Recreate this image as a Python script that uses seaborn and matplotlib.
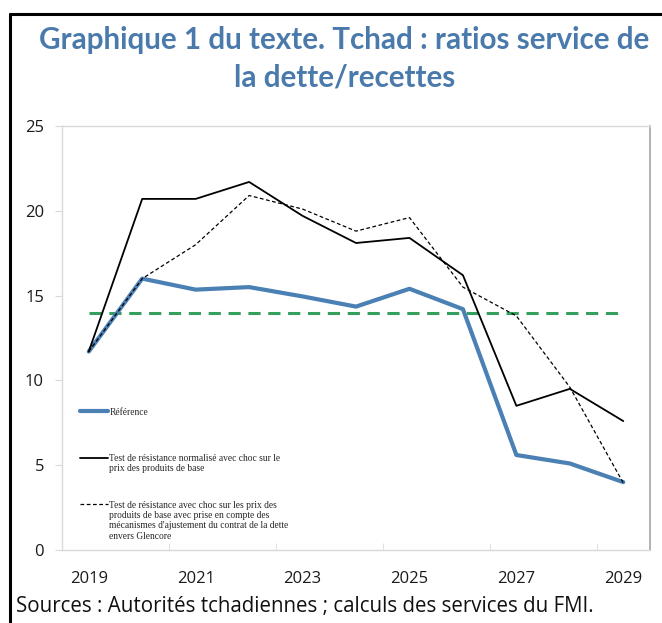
import matplotlib
matplotlib.use('Agg')
import matplotlib.pyplot as plt
import seaborn as sns
from matplotlib.lines import Line2D

# Data
years = [2019, 2020, 2021, 2022, 2023, 2024, 2025, 2026, 2027, 2028, 2029]
reference = [11.7, 16.0, 15.35, 15.5, 14.95, 14.35, 15.4, 14.2, 5.6, 5.1, 4.0]
stress_std = [11.7, 20.7, 20.7, 21.7, 19.7, 18.1, 18.4, 16.2, 8.5, 9.5, 7.6]
stress_glencore = [11.7, 16.0, 18.0, 20.9, 20.1, 18.8, 19.6, 15.5, 13.8, 9.6, 3.95]
threshold = [14.0] * len(years)

labels = [
    'Référence\n',
    'Test de résistance normalisé avec choc sur le\nprix des produits de base',
    'Test de résistance avec choc sur les prix des\nproduits de base avec prise en compte des\n'
    'mécanismes d\'ajustement du contrat de la dette\nenvers Glencore',
]
title = 'Graphique 1 du texte. Tchad : ratios service de\nla dette/recettes'
source = 'Sources : Autorités tchadiennes ; calculs des services du FMI.'

sns.set_style('white')
plt.rcParams['font.family'] = ['Open Sans', 'DejaVu Sans']

fig = plt.figure(figsize=(6.62, 6.23), dpi=100)
ax = fig.add_axes([0.0937, 0.1172, 0.8882, 0.6806])

blue = '#4a80b4'
green = '#35a05e'

sns.lineplot(x=years, y=threshold, ax=ax, color=green, linewidth=2.2,
             linestyle=(0, (4, 2.5)), label='_nolegend_')
sns.lineplot(x=years, y=reference, ax=ax, color=blue, linewidth=3.0, label=labels[0])
sns.lineplot(x=years, y=stress_std, ax=ax, color='black', linewidth=1.3, label=labels[1])
sns.lineplot(x=years, y=stress_glencore, ax=ax, color='black', linewidth=0.9,
             linestyle=(0, (3, 2)), label=labels[2])

ax.set_xlim(2018.5, 2029.5)
ax.set_ylim(0, 25)
ax.set_xticks(years[::2])
ax.set_xticklabels([str(y) for y in years[::2]])
ax.set_xticks([2020.5, 2022.5, 2024.5, 2026.5, 2028.5], minor=True)
ax.set_yticks(range(0, 26, 5))
ax.tick_params(axis='x', which='major', length=0, pad=15, labelsize=12, colors='#1a1a1a')
ax.tick_params(axis='x', which='minor', direction='in', length=5, color='#d9d9d9', bottom=True)
ax.tick_params(axis='y', length=5, color='#d9d9d9', left=True, pad=8,
               labelsize=12, colors='#1a1a1a')
ax.set_xlabel('')
ax.set_ylabel('')

for side in ['left', 'top', 'bottom']:
    ax.spines[side].set_color('#d9d9d9')
    ax.spines[side].set_linewidth(1.0)
ax.spines['right'].set_color('#a6a6a6')
ax.spines['right'].set_linewidth(1.2)

leg = ax.legend(loc='upper left', bbox_to_anchor=(0.031, 0.336), frameon=False,
                prop={'family': 'Liberation Serif', 'size': 6.85},
                handlelength=2.9, handletextpad=0.15, labelspacing=2.9,
                borderpad=0, borderaxespad=0)
# put each handle next to the first line of its label
for col in leg._legend_handle_box.get_children():
    for row in col.get_children():
        row.align = 'top'
for t in leg.get_texts():
    t.set_linespacing(1.17)

fig.text(0.52, 0.906, title, ha='center', va='center', fontsize=21.3,
         fontweight='bold', color='#4a7aab', family='Lato', linespacing=1.4)
fig.text(0.024, 0.026, source, ha='left', va='center', fontsize=14.8, color='#111111')

# outer frame of the original figure box
fig.add_artist(Line2D([0.0145, 0.0145], [0, 0.978], color='black', linewidth=2.2))
fig.add_artist(Line2D([0.0145, 1.0], [0.978, 0.978], color='black', linewidth=2.2))

fig.savefig('out.png', dpi=100)
